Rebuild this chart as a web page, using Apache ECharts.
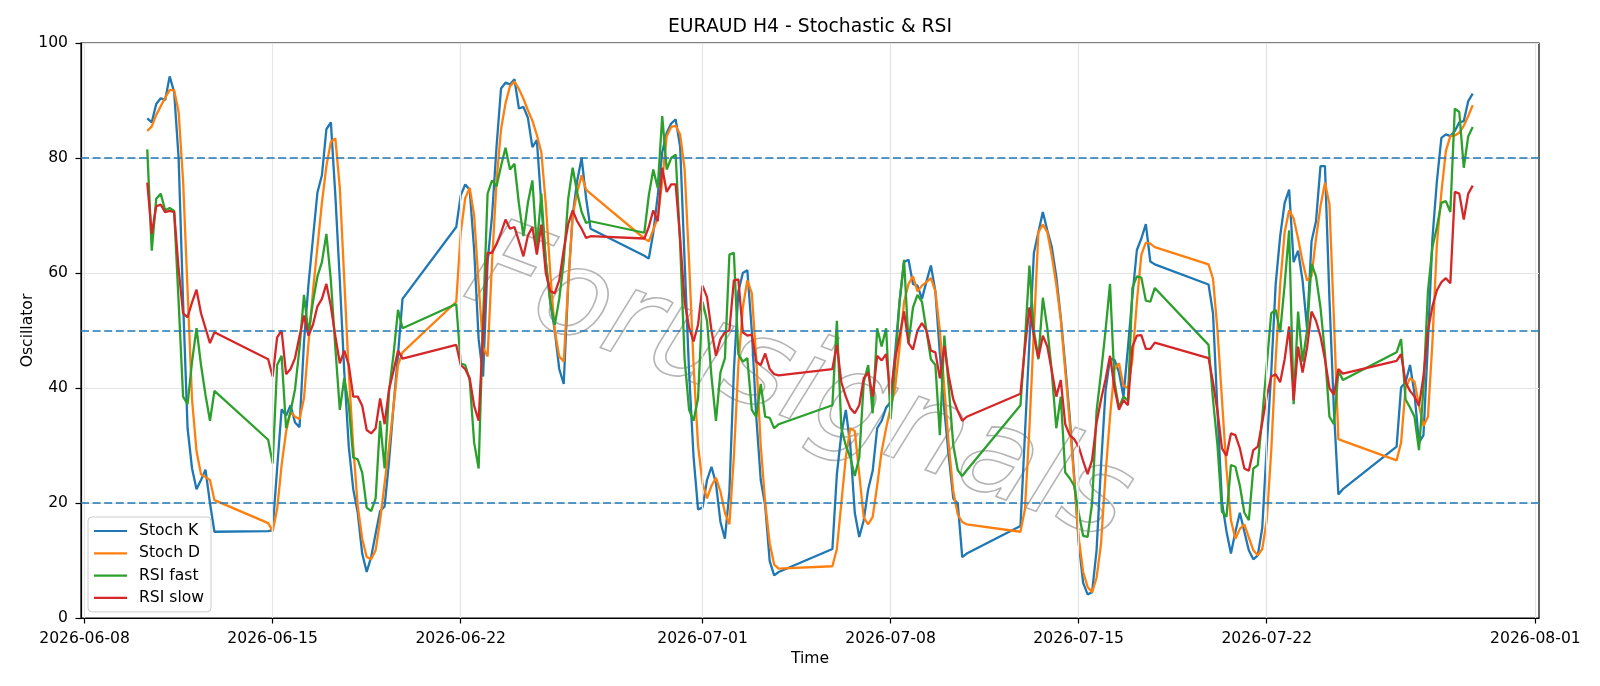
<!DOCTYPE html>
<html>
<head>
<meta charset="utf-8">
<title>EURAUD H4 - Stochastic & RSI</title>
<script src="https://cdn.jsdelivr.net/npm/echarts@6/dist/echarts.min.js"></script>
<style>
  html, body { margin: 0; padding: 0; background: #fff; }
  #chart { width: 1600px; height: 686px; }
</style>
</head>
<body>
<div id="chart"></div>
<script>
// 4h bars, weekdays only: [first bar (UTC), bar count]
const sessions = [
  ['2026-06-10T08:00', 16],
  ['2026-06-14T20:00', 31],
  ['2026-06-21T20:00', 31],
  ['2026-06-28T20:00', 31],
  ['2026-07-05T20:00', 31],
  ['2026-07-12T20:00', 31],
  ['2026-07-19T20:00', 31],
  ['2026-07-26T20:00', 18],
]

const stochK = [
  86.9, 86.2, 89.4, 90.4, 90.1, 94.2, 91.5, 80, 55, 33, 26, 22.4, 24, 25.8, 20, 15,
  15.1, 15.3, 26, 36.3, 35.2, 37, 34, 33.2, 48, 58, 66, 74, 77, 85, 86.2, 73.5, 58.7, 42.7, 29.8, 22.4, 18.3, 11.2, 8, 10.6, 14.7, 18.6, 19.4, 27.3, 36.9, 45.9, 55.5,
  68, 73.5, 75.4, 74.5, 64, 48.5, 42, 62, 70, 82, 92.1, 93.1, 92.8, 93.7, 88.6, 88.9, 87, 81.9, 83.1, 72, 62, 55, 50, 43.3, 40.7, 58, 70, 76, 80, 73, 67.7,
  63, 62.5, 67, 73.5, 81, 84.4, 86, 86.7, 82, 62, 42.7, 28, 18.9, 19.2, 24, 26.3, 23.4, 16.7, 13.8, 22, 43, 56.8, 60, 60.5, 50, 35, 24, 19.5, 9.9, 7.4, 8,
  12, 25, 32, 36.2, 30, 18.3, 14.1, 17, 22.4, 25.6, 33, 34.3, 36.6, 37.5, 46, 55, 61.9, 62.3, 58.1, 57.8, 55.5, 58.5, 61.3, 56.8, 46, 36.2, 28, 20.8, 19.9, 10.6, 11.2,
  16, 32, 48, 63.5, 67.1, 70.6, 67.4, 64.5, 59.4, 52.3, 44, 35, 24.7, 13.1, 6.1, 4.1, 4.5, 11.8, 26.6, 39.5, 45.1, 44.9, 42.7, 38.5, 47, 56, 64, 66, 68.5, 62, 61.5,
  58, 53, 36, 20.2, 15.1, 11.2, 15, 18.3, 15, 11.8, 10.2, 10.9, 15.7, 29.8, 42.7, 58.1, 66.4, 72.2, 74.5, 61.9, 63.9, 58.7, 50.4, 65.5, 69, 78.6, 78.6, 55.5, 36.2, 21.5, 22.4,
  29.8, 40.1, 41, 44, 39, 30.5, 31.8, 48, 66, 76, 83.5, 84.1, 83.8, 84.7, 86.2, 86.4, 89.9, 91.2,
]

const stochD = [
  84.7, 85.5, 87.5, 89, 90.5, 91.8, 91.8, 88, 76, 57, 38, 29, 25, 24.5, 24, 20.5,
  16.5, 15.1, 18.9, 26.6, 32.4, 35.9, 35, 34.6, 38.2, 47.8, 56.8, 64.5, 72.2, 78.6, 82.8, 83.4, 74.8, 58.7, 42.7, 29.8, 19.5, 13.8, 10.6, 10.2, 11.8, 17, 23.4, 29.8, 36.9, 44, 46.2,
  55, 67, 73, 74.8, 70, 58, 47, 45.5, 62, 76, 85, 89.5, 92.5, 93.3, 92, 90.3, 88.3, 86.5, 84, 81, 72, 60, 50, 45.5, 44.6, 58, 70, 74, 77, 74.5, 73.8,
  66, 65.5, 67.5, 69.6, 76, 83.8, 85.4, 85.6, 84.1, 78, 62, 44, 30, 23.4, 20.8, 23, 24.4, 22, 18.3, 16.3, 28, 44, 54, 58.7, 56.5, 45, 30, 20, 13, 9.3, 8.6,
  9, 12, 20, 28, 33, 32.5, 25, 17.5, 16.3, 17.6, 23, 29, 33, 36.6, 40, 47, 54.9, 58.1, 59.4, 56.8, 57.8, 58.4, 59.1, 56.8, 50, 40, 30, 22, 18, 16.7, 16.3,
  15, 18.9, 33, 50, 67.1, 68.4, 67.1, 63, 58, 52, 43, 34, 24, 14, 8, 5.4, 4.5, 7, 13, 25, 35, 43.3, 44.3, 40.4, 40, 45, 55, 63.2, 65.3, 65.1, 64.5,
  61.5, 59, 50, 38, 26, 17, 13.8, 15.5, 16.3, 14, 11.8, 10.9, 12, 17, 29, 45, 58, 67.1, 70.9, 69.5, 66, 62, 58.7, 59.5, 66, 71.6, 75.7, 72, 52, 31.1, 30.8,
  27.4, 30.5, 40, 41.7, 41.1, 37, 33.4, 35, 48, 65, 74, 81.2, 83.8, 83.9, 84.4, 85.6, 87.3, 89.2,
]

const rsiFast = [
  81.5, 63.9, 72.9, 73.8, 70.9, 71.3, 70.8, 55, 38.5, 37.2, 44.6, 50.4, 44, 38.8, 34.3, 39.5,
  31, 26.9, 44, 45.6, 33, 35.9, 39.8, 47, 56.2, 49.5, 55, 59.4, 61.9, 66.8, 58.7, 47, 36.2, 41.7, 37, 27.9, 27.6, 25.3, 19.2, 18.6, 20.8, 34.3, 26, 39.5, 45.9, 53.6, 50.4,
  54.6, 44.3, 44, 41.4, 30.5, 26, 52, 73.8, 76.1, 75.1, 78.6, 81.8, 78, 79, 72, 66.4, 72.2, 76.1, 64.5, 73.8, 62, 55, 51, 55.5, 62, 72.9, 78.3, 74, 70.6, 68.7, 69,
  67, 73.5, 78, 74.8, 87.3, 78, 80, 80.6, 65, 45, 36.2, 34.3, 38.2, 55, 51.7, 42, 34.3, 42.7, 45.2, 63.2, 63.5, 45.9, 44.6, 45.2, 36.2, 35, 40.7, 35, 34.8, 33, 33.7,
  37, 51.7, 33, 30, 27.9, 24.7, 27.9, 41, 44, 35.6, 50.4, 47.2, 50.4, 34.6, 44, 55, 62.3, 47.8, 54, 56.2, 55, 50, 45, 44, 31.8, 49.1, 40, 30, 25.7, 24.7, 25.7,
  37, 48, 61.3, 50, 45, 55.7, 50.4, 42.7, 33, 38.5, 25.3, 24.3, 23, 18.3, 14.3, 14.1, 20, 36, 42.7, 50, 58.1, 41, 36.6, 38.5, 37.8, 57.4, 59.4, 59.2, 55.2, 55, 57.4,
  47.5, 38, 30, 18.5, 17.6, 26.6, 26.3, 23, 18.3, 17, 26, 26.6, 35, 44, 53, 53.6, 49.7, 58, 67.4, 37.2, 53.3, 44.6, 50, 61.6, 59.4, 54, 46, 35, 33.7, 43, 41.4,
  46.2, 48.5, 38, 36.6, 35, 29.2, 40, 56.8, 64.5, 68, 72.2, 72.5, 70.6, 88.6, 88, 78.3, 83.8, 85.4,
]

const rsiSlow = [
  75.7, 66.8, 71.6, 71.9, 70.6, 70.8, 70.6, 60.7, 53, 52.3, 54.9, 57.1, 53, 50.4, 47.8, 49.7,
  45, 42, 48.8, 50, 42.4, 43.3, 45.2, 49, 52.6, 49.1, 51, 54.2, 55.5, 58.1, 54.2, 49, 44.3, 46.5, 44, 38.5, 38.5, 36.9, 32.7, 32.1, 33, 38.2, 33.7, 39.8, 43, 46.5, 45.1,
  47.5, 44, 43.3, 41.7, 36.9, 34.3, 50, 63.5, 63.5, 65, 67, 69.3, 67.7, 68, 65.5, 62.9, 66.5, 68, 63.2, 68.4, 60, 56.8, 56.5, 58.7, 64, 68.5, 70.9, 69, 67.7, 66.1, 66.4,
  66, 68, 70.9, 69, 78.3, 74.1, 75.4, 75.4, 66, 55, 50.5, 48.1, 51, 57.8, 55.8, 50, 45.6, 48.5, 49.7, 50, 58.7, 58.9, 49.7, 49.1, 49.3, 44.6, 44, 46, 43.3, 42.4, 42.2,
  43.3, 47.5, 41, 38.5, 36.5, 35.6, 37, 41.7, 42.7, 38.5, 45.6, 44.8, 45.9, 38.8, 45, 49, 53.3, 47.8, 46.7, 50, 51.3, 50, 46.5, 46.2, 41.7, 47.3, 42, 38, 36, 34.3, 35,
  39, 47, 54, 49, 45.2, 49.1, 47.2, 43, 38.5, 41.4, 33.7, 31.8, 31.1, 29.8, 27.3, 25, 27.5, 34, 38, 41.5, 45.6, 40, 36.2, 37.9, 37, 47.2, 49.1, 49.2, 46.8, 46.8, 47.9,
  45.2, 41, 36, 29.5, 28.2, 32.1, 31.8, 29.5, 26, 25.6, 29.2, 29.8, 34, 38.5, 42, 42.4, 41, 45, 50.7, 37.9, 47.2, 42.7, 47, 53.3, 51.7, 49, 45, 40, 38.8, 43.3, 42.5,
  44.7, 45.9, 41, 39.5, 38.5, 36.9, 42, 50, 54.2, 57, 58.4, 59.1, 58.2, 74.1, 73.8, 69.3, 73.8, 75.2,
]

const tickDates = ['2026-06-08', '2026-06-15', '2026-06-22', '2026-07-01', '2026-07-08', '2026-07-15', '2026-07-22', '2026-08-01']
const levels = [20, 50, 80]

const H4 = 4 * 3600 * 1000
let times = []
sessions.forEach(([start, n]) => {
  const t0 = Date.parse(start + ':00Z')
  for (let k = 0; k < n; k++) times.push(t0 + k * H4)
})
const tickTs = tickDates.map(d => Date.parse(d + 'T00:00:00Z'))
const span = times[times.length - 1] - times[0]
const xMin = times[0] - 0.05 * span
const xMax = times[times.length - 1] + 0.05 * span

const font = 'DejaVu Sans'
const fs = 15.6
const titleText = 'EURAUD H4 - Stochastic & RSI'
const titleSize = 18.8
const pair = arr => times.map((t, i) => [t, arr[i]])

// centre the title over the plot area, not the canvas
const ctx = document.createElement('canvas').getContext('2d')
ctx.font = titleSize + 'px "' + font + '"'
const titleLeft = 810 - ctx.measureText(titleText).width / 2

const line = (name, arr, color) => ({
  name,
  type: 'line',
  data: pair(arr),
  showSymbol: false,
  symbol: 'none',
  z: 3,
  lineStyle: { color, width: 2.3 },
  itemStyle: { color },
})

const chart = echarts.init(document.getElementById('chart'))
chart.setOption({
  animation: false,
  backgroundColor: '#fff',
  title: {
    text: titleText,
    left: titleLeft,
    top: 18,
    padding: 0,
    textStyle: { fontFamily: font, fontSize: titleSize, fontWeight: 'normal', color: '#000' },
  },
  legend: {
    orient: 'vertical',
    left: 88,
    top: 517,
    padding: [5, 7, 5, 6],
    itemGap: 4.3,
    itemWidth: 33,
    itemHeight: 2.2,
    icon: 'rect',
    borderColor: '#cccccc',
    borderWidth: 1,
    borderRadius: 4,
    backgroundColor: 'rgba(255,255,255,0.8)',
    textStyle: { fontFamily: font, fontSize: fs, color: '#000', lineHeight: 18, padding: [0, 0, 0, 7] },
    data: ['Stoch K', 'Stoch D', 'RSI fast', 'RSI slow'],
  },
  grid: {
    left: 81, right: 61, top: 43, bottom: 68,
    show: true, borderColor: '#000', borderWidth: 1.2, backgroundColor: 'transparent',
  },
  xAxis: {
    type: 'value',
    min: xMin,
    max: xMax,
    name: 'Time',
    nameLocation: 'middle',
    nameGap: 32,
    nameTextStyle: { fontFamily: font, fontSize: fs, color: '#000' },
    axisLine: { show: true, onZero: false, lineStyle: { color: '#000', width: 1.2 } },
    axisTick: { show: true, inside: false, length: 5.5, customValues: tickTs, lineStyle: { color: '#000', width: 1.2 } },
    axisLabel: {
      customValues: tickTs,
      margin: 12.5,
      fontFamily: font, fontSize: fs, color: '#000',
      formatter: v => new Date(v).toISOString().slice(0, 10),
    },
    splitLine: { show: false },
  },
  yAxis: {
    type: 'value',
    min: 0,
    max: 100,
    interval: 20,
    name: 'Oscillator',
    nameLocation: 'middle',
    nameGap: 45,
    nameMoveOverlap: false,
    nameTextStyle: { fontFamily: font, fontSize: fs, color: '#000' },
    axisLine: { show: true, lineStyle: { color: '#000', width: 1.2 } },
    axisTick: { show: true, inside: false, length: 5.5, lineStyle: { color: '#000', width: 1.2 } },
    axisLabel: { margin: 13, fontFamily: font, fontSize: fs, color: '#000' },
    splitLine: { show: true, lineStyle: { color: '#e5e5e5', width: 1.2 } },
  },
  graphic: [{
    type: 'text',
    z: 1,
    x: 798,
    y: 388,
    rotation: -0.36,
    silent: true,
    style: {
      text: 'Forusignals',
      font: 'italic 200 122px "DejaVu Sans"',
      align: 'center',
      verticalAlign: 'middle',
      fill: 'rgba(0,0,0,0)',
      stroke: '#b5b5b5',
      lineWidth: 1.6,
    },
  }],
  series: [
    {
      // vertical grid at the date ticks
      type: 'line',
      data: [],
      z: 1,
      silent: true,
      markLine: {
        silent: true,
        symbol: 'none',
        label: { show: false },
        lineStyle: { color: '#e5e5e5', width: 1.2, type: 'solid' },
        data: tickTs.map(t => ({ xAxis: t })),
      },
    },
    line('Stoch K', stochK, '#1f77b4'),
    line('Stoch D', stochD, '#ff7f0e'),
    line('RSI fast', rsiFast, '#2ca02c'),
    line('RSI slow', rsiSlow, '#d62728'),
    {
      // overbought / mid / oversold levels
      type: 'line',
      data: [],
      z: 4,
      silent: true,
      markLine: {
        silent: true,
        symbol: 'none',
        label: { show: false },
        lineStyle: { color: '#1f77b4', width: 1.7, type: [8, 3.6] },
        data: levels.map(v => ({ yAxis: v })),
      },
    },
  ],
})
window.onresize = function () {
  chart.resize()
}
</script>
</body>
</html>
